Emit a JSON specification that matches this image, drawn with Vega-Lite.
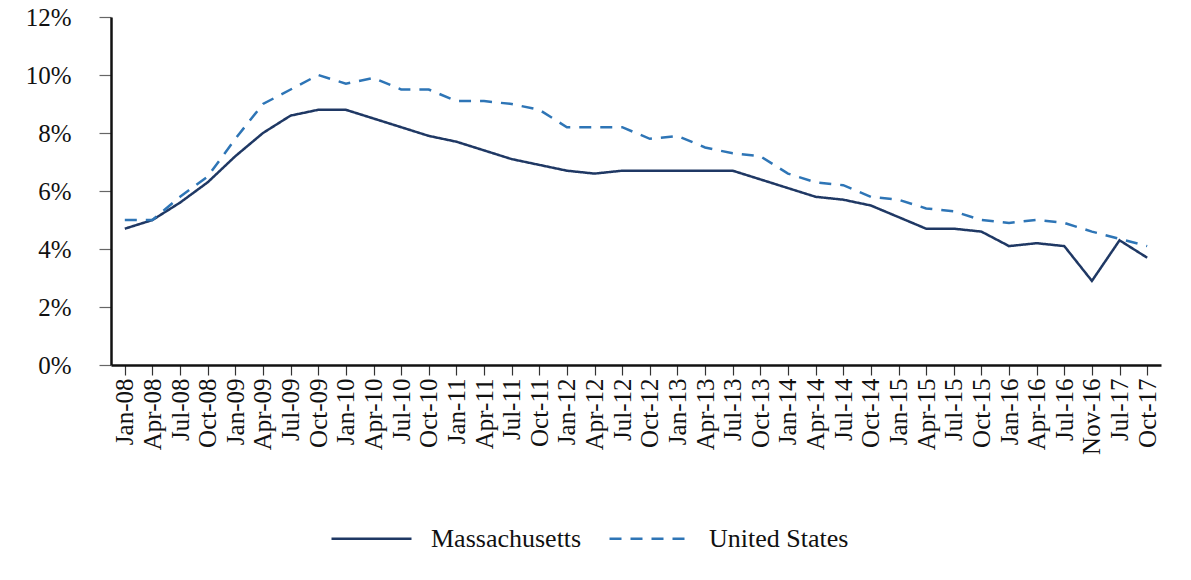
{
  "$schema": "https://vega.github.io/schema/vega-lite/v6.json",
  "autosize": "none",
  "width": 1050,
  "height": 348,
  "padding": {"left": 111, "top": 17, "right": 30, "bottom": 215},
  "background": "white",
  "data": {"values": [
    {"month": "Jan-08", "series": "Massachusetts", "rate": 4.7}, {"month": "Jan-08", "series": "United States", "rate": 5.0},
    {"month": "Apr-08", "series": "Massachusetts", "rate": 5.0}, {"month": "Apr-08", "series": "United States", "rate": 5.0},
    {"month": "Jul-08", "series": "Massachusetts", "rate": 5.6}, {"month": "Jul-08", "series": "United States", "rate": 5.8},
    {"month": "Oct-08", "series": "Massachusetts", "rate": 6.3}, {"month": "Oct-08", "series": "United States", "rate": 6.5},
    {"month": "Jan-09", "series": "Massachusetts", "rate": 7.2}, {"month": "Jan-09", "series": "United States", "rate": 7.8},
    {"month": "Apr-09", "series": "Massachusetts", "rate": 8.0}, {"month": "Apr-09", "series": "United States", "rate": 9.0},
    {"month": "Jul-09", "series": "Massachusetts", "rate": 8.6}, {"month": "Jul-09", "series": "United States", "rate": 9.5},
    {"month": "Oct-09", "series": "Massachusetts", "rate": 8.8}, {"month": "Oct-09", "series": "United States", "rate": 10.0},
    {"month": "Jan-10", "series": "Massachusetts", "rate": 8.8}, {"month": "Jan-10", "series": "United States", "rate": 9.7},
    {"month": "Apr-10", "series": "Massachusetts", "rate": 8.5}, {"month": "Apr-10", "series": "United States", "rate": 9.9},
    {"month": "Jul-10", "series": "Massachusetts", "rate": 8.2}, {"month": "Jul-10", "series": "United States", "rate": 9.5},
    {"month": "Oct-10", "series": "Massachusetts", "rate": 7.9}, {"month": "Oct-10", "series": "United States", "rate": 9.5},
    {"month": "Jan-11", "series": "Massachusetts", "rate": 7.7}, {"month": "Jan-11", "series": "United States", "rate": 9.1},
    {"month": "Apr-11", "series": "Massachusetts", "rate": 7.4}, {"month": "Apr-11", "series": "United States", "rate": 9.1},
    {"month": "Jul-11", "series": "Massachusetts", "rate": 7.1}, {"month": "Jul-11", "series": "United States", "rate": 9.0},
    {"month": "Oct-11", "series": "Massachusetts", "rate": 6.9}, {"month": "Oct-11", "series": "United States", "rate": 8.8},
    {"month": "Jan-12", "series": "Massachusetts", "rate": 6.7}, {"month": "Jan-12", "series": "United States", "rate": 8.2},
    {"month": "Apr-12", "series": "Massachusetts", "rate": 6.6}, {"month": "Apr-12", "series": "United States", "rate": 8.2},
    {"month": "Jul-12", "series": "Massachusetts", "rate": 6.7}, {"month": "Jul-12", "series": "United States", "rate": 8.2},
    {"month": "Oct-12", "series": "Massachusetts", "rate": 6.7}, {"month": "Oct-12", "series": "United States", "rate": 7.8},
    {"month": "Jan-13", "series": "Massachusetts", "rate": 6.7}, {"month": "Jan-13", "series": "United States", "rate": 7.9},
    {"month": "Apr-13", "series": "Massachusetts", "rate": 6.7}, {"month": "Apr-13", "series": "United States", "rate": 7.5},
    {"month": "Jul-13", "series": "Massachusetts", "rate": 6.7}, {"month": "Jul-13", "series": "United States", "rate": 7.3},
    {"month": "Oct-13", "series": "Massachusetts", "rate": 6.4}, {"month": "Oct-13", "series": "United States", "rate": 7.2},
    {"month": "Jan-14", "series": "Massachusetts", "rate": 6.1}, {"month": "Jan-14", "series": "United States", "rate": 6.6},
    {"month": "Apr-14", "series": "Massachusetts", "rate": 5.8}, {"month": "Apr-14", "series": "United States", "rate": 6.3},
    {"month": "Jul-14", "series": "Massachusetts", "rate": 5.7}, {"month": "Jul-14", "series": "United States", "rate": 6.2},
    {"month": "Oct-14", "series": "Massachusetts", "rate": 5.5}, {"month": "Oct-14", "series": "United States", "rate": 5.8},
    {"month": "Jan-15", "series": "Massachusetts", "rate": 5.1}, {"month": "Jan-15", "series": "United States", "rate": 5.7},
    {"month": "Apr-15", "series": "Massachusetts", "rate": 4.7}, {"month": "Apr-15", "series": "United States", "rate": 5.4},
    {"month": "Jul-15", "series": "Massachusetts", "rate": 4.7}, {"month": "Jul-15", "series": "United States", "rate": 5.3},
    {"month": "Oct-15", "series": "Massachusetts", "rate": 4.6}, {"month": "Oct-15", "series": "United States", "rate": 5.0},
    {"month": "Jan-16", "series": "Massachusetts", "rate": 4.1}, {"month": "Jan-16", "series": "United States", "rate": 4.9},
    {"month": "Apr-16", "series": "Massachusetts", "rate": 4.2}, {"month": "Apr-16", "series": "United States", "rate": 5.0},
    {"month": "Jul-16", "series": "Massachusetts", "rate": 4.1}, {"month": "Jul-16", "series": "United States", "rate": 4.9},
    {"month": "Nov-16", "series": "Massachusetts", "rate": 2.9}, {"month": "Nov-16", "series": "United States", "rate": 4.6},
    {"month": "Jul-17", "series": "Massachusetts", "rate": 4.3}, {"month": "Jul-17", "series": "United States", "rate": 4.35},
    {"month": "Oct-17", "series": "Massachusetts", "rate": 3.7}, {"month": "Oct-17", "series": "United States", "rate": 4.1}
  ]},
  "mark": {"type": "line", "strokeWidth": 2.5},
  "encoding": {
    "x": {
      "field": "month", "type": "ordinal", "sort": null,
      "scale": {"type": "point", "padding": 0.5},
      "axis": {
        "title": null, "labelAngle": -90, "labelFont": "Liberation Serif", "labelFontSize": 25,
        "labelColor": "#111", "tickSize": 10, "tickWidth": 1.2, "tickColor": "#333",
        "domainColor": "#111", "domainWidth": 2.5,
        "labelPadding": 3, "labelOverlap": false, "grid": false
      }
    },
    "y": {
      "field": "rate", "type": "quantitative",
      "scale": {"domain": [0, 12], "nice": false},
      "axis": {
        "title": null, "values": [0, 2, 4, 6, 8, 10, 12], "labelExpr": "datum.value + '%'",
        "labelFont": "Liberation Serif", "labelFontSize": 25, "labelColor": "#111",
        "tickSize": 12, "tickWidth": 1.2, "tickColor": "#666",
        "domainColor": "#111", "domainWidth": 2.5,
        "labelPadding": 28, "grid": false
      }
    },
    "color": {
      "field": "series", "type": "nominal",
      "scale": {"domain": ["Massachusetts", "United States"], "range": ["#1f3864", "#2e75b6"]},
      "legend": {
        "title": null, "orient": "none", "legendX": 219, "legendY": 480, "direction": "horizontal",
        "symbolType": "stroke", "symbolSize": 6400, "symbolStrokeWidth": 2.5,
        "labelFont": "Liberation Serif", "labelFontSize": 26, "labelColor": "#111",
        "labelOffset": 18, "columnPadding": 22
      }
    },
    "strokeDash": {
      "field": "series", "type": "nominal",
      "scale": {"domain": ["Massachusetts", "United States"], "range": [[1, 0], [12, 9]]},
      "legend": null
    }
  },
  "config": {"view": {"stroke": null}}
}
